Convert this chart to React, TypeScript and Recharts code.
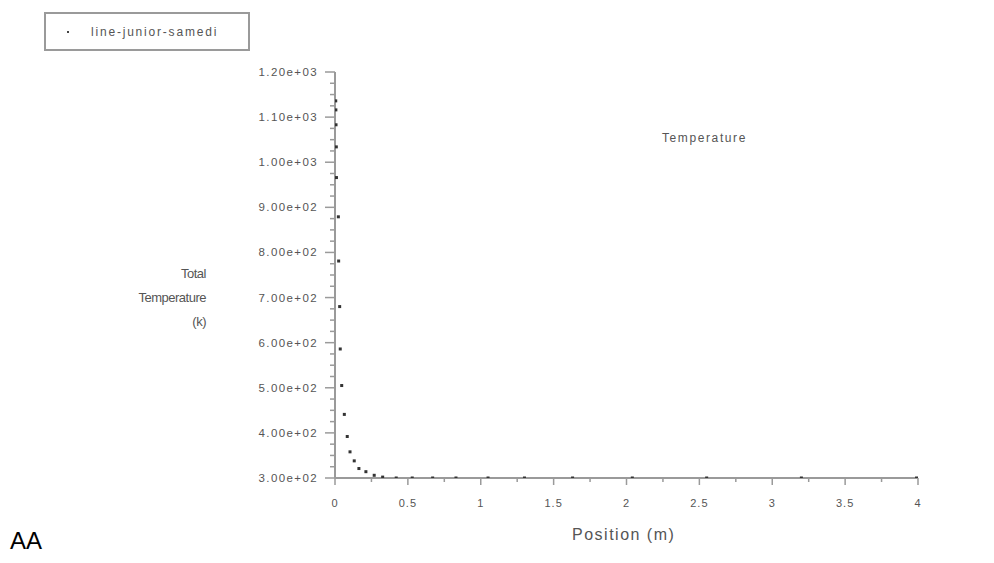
import React from 'react';
import { ScatterChart, Scatter, XAxis, YAxis } from 'recharts';

// values
const positions = [
  0.005, 0.006, 0.007, 0.009, 0.01, 0.023, 0.025, 0.032, 0.036, 0.046,
  0.064, 0.084, 0.103, 0.132, 0.164, 0.212, 0.269, 0.327, 0.42, 0.53,
  0.67, 0.83, 1.05, 1.3, 1.63, 2.04, 2.55, 3.2, 3.99,
];
const temperatures = [
  1136, 1116, 1083, 1034, 966, 879, 781, 680, 586, 505,
  441, 392, 358, 338, 321, 314, 306, 302, 300, 300,
  300, 300, 300, 300, 300, 300, 300, 300, 300,
];
const xTicks = [0, 0.25, 0.5, 0.75, 1, 1.25, 1.5, 1.75, 2, 2.25, 2.5, 2.75, 3, 3.25, 3.5, 3.75, 4];
const yTicks = [
  300, 325, 350, 375, 400, 425, 450, 475, 500, 525, 550, 575, 600, 625, 650, 675,
  700, 725, 750, 775, 800, 825, 850, 875, 900, 925, 950, 975, 1000, 1025, 1050,
  1075, 1100, 1125, 1150, 1175, 1200,
];
const seriesName = 'line-junior-samedi';

const data = positions.map((x, i) => ({ x, y: temperatures[i] }));

const FONT = '"Liberation Sans", Arial, sans-serif';
const AXIS = '#9a9a9a';
const TEXT = '#555';

// 1200 -> 1.20e+03
const sci = (v: number) => {
  const exp = Math.floor(Math.log10(v));
  const m = (v / Math.pow(10, exp)).toFixed(2);
  return `${m}e+${String(exp).padStart(2, '0')}`;
};

const XTick = (props: any) => {
  const { x, y, payload } = props;
  const v = payload.value;
  const major = Math.abs(v * 2 - Math.round(v * 2)) < 1e-6;
  return (
    <g>
      <line x1={x} y1={y} x2={x} y2={y + (major ? 7 : 4)} stroke={AXIS} strokeWidth={1.5} />
      {major && (
        <text x={x} y={y + 29} textAnchor="middle" fontFamily={FONT} fontSize={11} fill={TEXT} letterSpacing={1}>
          {String(v)}
        </text>
      )}
    </g>
  );
};

const YTick = (props: any) => {
  const { x, y, payload } = props;
  const v = payload.value;
  const major = v % 100 === 0;
  return (
    <g>
      <line x1={x - (major ? 10 : 5)} y1={y} x2={x} y2={y} stroke={AXIS} strokeWidth={1.5} />
      {major && (
        <text x={x - 17} y={y + 4} textAnchor="end" fontFamily={FONT} fontSize={11.5} fill={TEXT} letterSpacing={1.4}>
          {sci(v)}
        </text>
      )}
    </g>
  );
};

const Dot = (props: any) => (
  <rect x={props.cx - 1.5} y={props.cy - 1.5} width={3} height={3} fill="#333" />
);

export default function App() {
  return (
    <div style={{ position: 'absolute', left: 0, top: 0, width: 994, height: 563, background: '#fff' }}>
      <ScatterChart width={994} height={563} margin={{ top: 72, right: 76, bottom: 84, left: 334 }}>
        <XAxis
          dataKey="x"
          type="number"
          domain={[0, 4]}
          ticks={xTicks}
          interval={0}
          height={1}
          tickSize={0}
          tickMargin={0}
          tickLine={false}
          tick={<XTick />}
          axisLine={{ stroke: AXIS, strokeWidth: 2 }}
          allowDataOverflow
        />
        <YAxis
          dataKey="y"
          type="number"
          domain={[300, 1200]}
          ticks={yTicks}
          interval={0}
          width={1}
          tickSize={0}
          tickMargin={0}
          tickLine={false}
          tick={<YTick />}
          axisLine={{ stroke: AXIS, strokeWidth: 2 }}
          allowDataOverflow
        />
        <Scatter name={seriesName} data={data} shape={<Dot />} isAnimationActive={false} />
      </ScatterChart>

      {/* legend box */}
      <div
        style={{
          position: 'absolute',
          left: 44,
          top: 12,
          width: 202,
          height: 35,
          border: `2px solid ${AXIS}`,
          display: 'flex',
          alignItems: 'center',
          fontFamily: FONT,
          fontSize: 12,
          color: TEXT,
          letterSpacing: 1.8,
        }}
      >
        <span style={{ width: 2, height: 2, background: '#444', marginLeft: 21, marginRight: 22 }} />
        {seriesName}
      </div>

      <div style={{ position: 'absolute', left: 662, top: 131, fontFamily: FONT, fontSize: 12, color: TEXT, letterSpacing: 1.6 }}>
        Temperature
      </div>
      <div
        style={{
          position: 'absolute',
          right: 994 - 206,
          top: 262,
          textAlign: 'right',
          fontFamily: FONT,
          fontSize: 13,
          lineHeight: '24px',
          color: TEXT,
          letterSpacing: -0.5,
        }}
      >
        Total
        <br />
        Temperature
        <br />
        (k)
      </div>
      <div style={{ position: 'absolute', left: 572, top: 526, fontFamily: FONT, fontSize: 16, color: TEXT, letterSpacing: 1.5 }}>
        Position (m)
      </div>
      <div style={{ position: 'absolute', left: 10, top: 527, fontFamily: FONT, fontSize: 24, color: '#000' }}>AA</div>
    </div>
  );
}
